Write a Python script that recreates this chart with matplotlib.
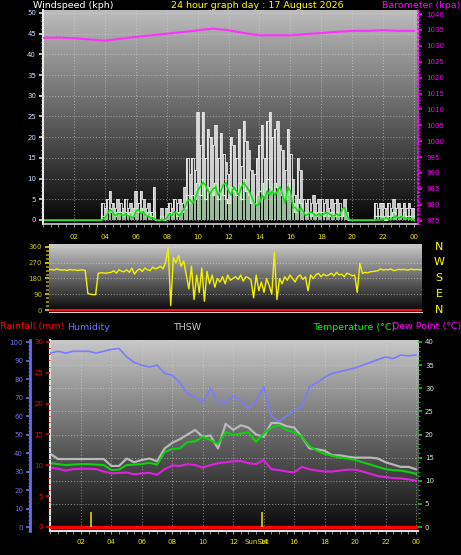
import numpy as np
import matplotlib
matplotlib.use('Agg')
import matplotlib.pyplot as plt
from matplotlib.ticker import MultipleLocator, FixedLocator
from matplotlib.colors import LinearSegmentedColormap

# ---------------- data ----------------
hour_ticks = [2, 4, 6, 8, 10, 12, 14, 16, 18, 20, 22, 24]
hour_labels = ['02', '04', '06', '08', '10', '12', '14', '16', '18', '20', '22', '00']

# 10-minute wind data (kph), 145 samples from 00:00 to 24:00
gust = [0, 0, 0, 0, 0, 0,  0, 0, 0, 0, 0, 0,  0, 0, 0, 0, 0, 0,  0, 0, 0, 0, 0, 4,
        3, 5, 7, 4, 3, 5,  4, 3, 5, 3, 4, 3,  7, 4, 7, 5, 3, 4,  2, 8, 0, 0, 3, 0,
        3, 4, 3, 5, 4, 5,  4, 8, 15, 11, 15, 12,  26, 18, 26, 15, 22, 20,  18, 23, 15, 21, 16, 14,
        11, 20, 18, 15, 22, 13,  24, 19, 17, 12, 11, 15,  18, 23, 15, 24, 26, 20,  22, 24, 18, 17, 12, 22,
        16, 10, 6, 15, 12, 5,  4, 5, 4, 6, 4, 5,  5, 4, 5, 3, 5, 4,  5, 4, 3, 5, 2, 0,
        0, 0, 0, 0, 0, 0,  0, 0, 0, 4, 3, 4,  4, 3, 4, 3, 5, 3,  4, 3, 4, 3, 4, 3,  3]
wind = [0, 0, 0, 0, 0, 0,  0, 0, 0, 0, 0, 0,  0, 0, 0, 0, 0, 0,  0, 0, 0, 0, 0, 1,
        1, 2, 3, 2, 1, 2,  2, 1, 2, 1, 2, 1,  3, 2, 3, 2, 1, 2,  1, 2, 0, 0, 1, 0,
        1, 2, 1, 2, 1, 2,  2, 3, 6, 4, 6, 5,  9, 6, 10, 5, 8, 7,  6, 9, 5, 8, 6, 5,
        4, 8, 7, 6, 9, 5,  10, 7, 6, 4, 4, 6,  7, 9, 6, 10, 8, 7,  9, 8, 7, 6, 5, 9,
        6, 4, 2, 5, 4, 2,  1, 2, 1, 2, 1, 2,  2, 1, 2, 1, 2, 1,  2, 1, 1, 3, 1, 0,
        0, 0, 0, 0, 0, 0,  0, 0, 0, 1, 1, 1,  1, 0, 1, 1, 2, 1,  1, 1, 2, 1, 1, 1,  1]
wind_avg = [0, 0, 0, 0, 0, 0,  0, 0, 0, 0, 0, 0,  0, 0, 0, 0, 0, 0,  0, 0, 0, 0, 0, 0,
            0.5, 1.5, 2.5, 2, 1, 1.5,  1.5, 1, 1.5, 1, 0.8, 0.5,  2, 2.5, 1.5, 2, 1, 0.8,
            0.5, 0.3, 0, 0, 0, 0,  0.5, 1.5, 1, 2, 1.5, 1,  2, 3, 4.5, 5, 4, 5,
            7, 8, 9, 8.5, 7, 6.5,  7.5, 8, 6, 7, 8.5, 9,  7, 6, 8, 7, 6, 8,
            9, 8, 7, 5.5, 4, 3.5,  4, 6, 5, 7, 6, 7,  6, 7, 8, 6, 4, 8,
            7, 3, 3, 2, 3, 2,  1, 1.5, 2, 1.5, 1, 1.5,  1, 1.5, 1.8, 1.5, 1, 1,
            1.5, 1, 2.5, 3, 1, 0,  0, 0, 0, 0, 0, 0,  0, 0, 0, 0, 0, 0,
            0.2, 0.5, 0.3, 0, 0.5, 1,  0.5, 0.8, 0.5, 0.2, 0.5, 0,  0]

# 10-minute wind direction (degrees)
direction = [230, 232, 228, 235, 230, 228,  230, 225, 232, 228, 230, 226,
             228, 230, 225, 95, 90, 88,  88, 210, 212, 212, 210, 213,
             215, 225, 210, 230, 222, 218,  230, 215, 240, 205, 225, 235,
             220, 240, 230, 225, 245, 235,  240, 250, 235, 270, 355, 25,
             300, 270, 310, 250, 280, 200,  120, 250, 60, 200, 100, 240,
             50, 220, 150, 200, 130, 180,  160, 190, 150, 200, 170, 180,
             190, 175, 200, 165, 190, 185,  170, 70, 200, 110, 160, 100,
             180, 140, 90, 330, 60, 180,  150, 190, 170, 200, 180, 160,
             190, 200, 175, 190, 110, 200,  180, 200, 210, 190, 205, 195,
             200, 210, 195, 215, 200, 205,  190, 210, 205, 195, 200, 100,
             265, 210, 215, 212, 218, 220,  222, 225, 235, 228, 232, 230,
             235, 225, 228, 232, 230, 232,  228, 230, 235, 230, 232, 230,  230]
dir_red_hours = [0, 24]
dir_red = [0, 0]

# hourly barometer (as labelled, kpa)
baro_hours = list(range(25))
baro = [1032.5, 1032.6, 1032.4, 1032.0, 1031.6, 1032.2, 1032.8, 1033.3, 1033.8, 1034.3,
        1034.9, 1035.4, 1034.9, 1034.0, 1033.3, 1033.3, 1033.3, 1033.7, 1034.0, 1034.4,
        1034.7, 1034.7, 1034.9, 1034.7, 1034.7]

# 30-minute temperature data
temp = [13.8, 13.6, 13.4, 13.5, 13.6, 13.6, 13.5, 13.4, 12.3, 12.4, 13.4, 13.5, 13.6, 13.9,
        13.5, 16.2, 16.9, 17.0, 18.4, 18.5, 19.5, 18.8, 18.0, 20.5, 19.9, 20.2, 20.5, 18.4,
        20.2, 21.5, 22.0, 21.0, 20.5, 19.5, 17.5, 16.5, 15.8, 15.4, 15.0, 14.8, 14.5, 14.0,
        13.5, 13.0, 12.5, 12.3, 12.2, 11.9, 11.5]
thsw = [15.8, 14.7, 14.7, 14.7, 14.7, 14.7, 14.7, 14.7, 13.2, 13.2, 14.8, 14.0, 14.5, 14.8,
        14.2, 17.0, 18.2, 19.0, 20.0, 21.0, 19.5, 19.8, 17.0, 22.3, 21.0, 22.0, 21.5, 20.0,
        19.5, 22.5, 22.5, 21.8, 21.5, 19.5, 17.0, 16.8, 16.5, 15.5, 15.5, 15.2, 15.0, 15.0,
        15.0, 14.8, 14.0, 13.5, 13.0, 13.0, 12.5]
dew = [12.8, 12.6, 12.2, 12.5, 12.6, 12.6, 12.5, 12.0, 11.6, 11.7, 11.8, 11.4, 11.6, 11.7,
       11.3, 12.5, 13.3, 13.2, 13.6, 13.4, 12.8, 13.4, 13.8, 14.0, 14.2, 14.3, 13.8, 13.6,
       14.5, 12.5, 12.3, 12.0, 11.8, 13.0, 12.5, 12.2, 12.0, 12.0, 12.2, 12.4, 12.4, 12.0,
       11.5, 11.0, 10.8, 10.6, 10.5, 10.3, 10.0]
humidity = [94, 95, 94, 95, 95, 95, 94, 95, 96, 96.5, 92, 89, 87.5, 86.5, 87.5, 83, 82, 78,
            72, 70, 67.5, 75, 68, 67, 71, 68, 64, 68, 76, 60, 57, 60, 63, 65, 76, 78, 81, 83,
            84, 85, 86, 87.5, 89, 90.5, 92, 91, 93, 92.5, 93]
rain_hours = [0, 24]
rain = [0, 0]
marker_hours = [2.65, 13.9]
marker_height = [2.4, 2.4]

# ---------------- figure ----------------
W, H = 461, 555
fig = plt.figure(figsize=(W / 100, H / 100), dpi=100, facecolor='black')
PX = 72 / 100  # points per pixel


def rect(l, t, r, b):
    return [l / W, 1 - b / H, (r - l) / W, (b - t) / H]


def background(r, top, bottom):
    bg = fig.add_axes(r, zorder=0)
    g = np.linspace(0, 1, 256).reshape(-1, 1)
    cmap = LinearSegmentedColormap.from_list('g', [bottom, top])
    bg.imshow(g, extent=[0, 1, 0, 1], origin='lower', aspect='auto', cmap=cmap)
    bg.set_xlim(0, 1)
    bg.set_ylim(0, 1)
    bg.axis('off')
    return bg


TICK = 5
TITLE = 6.8
t10 = np.arange(len(gust)) / 6.0
t10d = np.arange(len(direction)) / 6.0
t30 = np.arange(len(temp)) / 2.0

# ---- panel 1: wind + barometer ----
r1 = rect(43, 10, 418, 224)
background(r1, '#bcbcbc', '#050505')
ax1 = fig.add_axes(r1, zorder=1)
ax1.set_facecolor('none')
ax1.vlines(t10, wind, gust, color='white', lw=1.1)
ax1.plot(t10, gust, color='#e8e8e8', lw=0.6, drawstyle='steps-mid')
ax1.vlines(t10, 0, wind, color='#c6f0c6', lw=1.1)
ax1.plot(t10, wind, color='#c6f0c6', lw=0.9, drawstyle='steps-mid')
ax1.plot(t10, wind_avg, color='#18d818', lw=1.2)
ax1.set_xlim(0, 24.25)
ax1.set_ylim(-0.97, 50.7)
ax1.yaxis.set_major_locator(MultipleLocator(5))
ax1.yaxis.set_minor_locator(MultipleLocator(1))
ax1.xaxis.set_major_locator(FixedLocator(hour_ticks))
ax1.xaxis.set_minor_locator(MultipleLocator(0.5))
ax1.set_xticklabels(hour_labels)
ax1.grid(True, which='major', color='#d8d8d8', ls=(0, (1, 2)), lw=0.7, alpha=0.6)
ax1.tick_params(axis='y', colors='#e0e0e0', labelcolor='#c8dcff', labelsize=TICK, length=3, width=1.2, pad=2)
ax1.tick_params(axis='y', which='minor', colors='#c0c0c0', length=1.5)
ax1.tick_params(axis='x', colors='#a0a0a0', labelcolor='#e6e600', labelsize=TICK, length=2, pad=5)
ax1.tick_params(axis='x', which='minor', colors='#a0a0a0', length=2)
for s in ['top', 'right']:
    ax1.spines[s].set_visible(False)
ax1.spines['left'].set_color('#e8e8e8')
ax1.spines['left'].set_linewidth(1.5)
ax1.spines['bottom'].set_color('#d0d0d0')
ax1.spines['bottom'].set_linewidth(1.2)

axb = ax1.twinx()
axb.set_zorder(2)
axb.set_facecolor('none')
axb.plot(baro_hours, baro, color='#ff30ff', lw=1.5)
axb.set_ylim(973.96, 1041.26)
axb.yaxis.set_major_locator(MultipleLocator(5))
axb.yaxis.set_minor_locator(MultipleLocator(1))
axb.tick_params(axis='y', colors='#ff00ff', labelcolor='#ff00ff', labelsize=TICK, length=3, width=1.2, pad=3)
axb.tick_params(axis='y', which='minor', colors='#ff00ff', length=1.2)
for s in ['top', 'left', 'bottom']:
    axb.spines[s].set_visible(False)
axb.spines['right'].set_color('#ff00ff')
axb.spines['right'].set_linestyle(':')
axb.spines['right'].set_linewidth(1.2)

# ---- panel 2: wind direction ----
r2 = rect(49, 244, 422, 312)
background(r2, '#cacaca', '#050505')
ax2 = fig.add_axes(r2, zorder=1)
ax2.set_facecolor('none')
ax2.plot(dir_red_hours, dir_red, color='#ff1010', lw=1.5)
ax2.plot(t10d, direction, color='#f2f200', lw=1.0)
ax2.set_xlim(0, 24)
ax2.set_ylim(-11.4, 377)
ax2.yaxis.set_major_locator(FixedLocator([0, 90, 180, 270, 360]))
ax2.yaxis.set_minor_locator(MultipleLocator(22.5))
ax2.set_xticks([])
ax2.grid(True, axis='y', color='#e0e0e0', ls=(0, (1, 2)), lw=0.7, alpha=0.6)
ax2.tick_params(axis='y', colors='#b8b800', labelcolor='#c8c800', labelsize=TICK, length=3, width=1.5, pad=2)
ax2.tick_params(axis='y', which='minor', colors='#a0a000', length=2, width=1.2)
for s in ['top', 'right', 'left']:
    ax2.spines[s].set_visible(False)
ax2.spines['bottom'].set_color('#d0d0d0')
compass_y = [247, 262, 278, 294, 310]
for lab, yp in zip(['N', 'W', 'S', 'E', 'N'], compass_y):
    fig.text(439 / W, 1 - yp / H, lab, color='#ffff00', fontsize=8, ha='center', va='center')

# ---- panel 3: temperature / humidity / rain ----
r3 = rect(50, 340, 418, 531)
background(r3, '#c8c8c8', '#080808')
ax3 = fig.add_axes(r3, zorder=1)
ax3.set_facecolor('none')
ax3.plot(t30, thsw, color='#b8b8b8', lw=1.6)
ax3.plot(t30, temp, color='#10d010', lw=1.5)
ax3.plot(t30, dew, color='#e020e0', lw=1.5)
ax3.set_xlim(-0.03, 24.13)
ax3.set_ylim(-0.86, 40.43)

axh = ax3.twinx()
axr = ax3.twinx()

ax3.yaxis.tick_right()
ax3.yaxis.set_major_locator(MultipleLocator(5))
ax3.yaxis.set_minor_locator(MultipleLocator(1))
ax3.xaxis.set_major_locator(FixedLocator(hour_ticks))
ax3.xaxis.set_minor_locator(MultipleLocator(0.5))
ax3.set_xticklabels(hour_labels)
ax3.grid(True, which='major', color='#d8d8d8', ls=(0, (1, 2)), lw=0.7, alpha=0.6)
ax3.tick_params(axis='y', which='both', left=False, labelleft=False, right=True, labelright=True)
ax3.tick_params(axis='y', colors='#20c020', labelcolor='#c8f0c8', labelsize=TICK, length=3, width=1.2, pad=2)
ax3.tick_params(axis='y', which='minor', colors='#20c020', length=1.2)
ax3.tick_params(axis='x', colors='#a0a0a0', labelcolor='#e6e600', labelsize=TICK, length=2, pad=4)
ax3.tick_params(axis='x', which='minor', colors='#a0a0a0', length=2)
for s in ['top', 'right']:
    ax3.spines[s].set_visible(False)
ax3.spines['left'].set_color('#e0e0e0')
ax3.spines['left'].set_linewidth(1.5)
ax3.spines['bottom'].set_color('#e0e0e0')
ax3.spines['bottom'].set_linewidth(1.5)

axh.set_zorder(2)
axh.set_facecolor('none')
axh.plot(t30, humidity, color='#7b7bff', lw=1.2)
axh.set_ylim(-2.16, 101.1)
axh.yaxis.tick_left()
axh.spines['left'].set_position(('outward', 20 * PX))
axh.spines['left'].set_color('#6a6af0')
axh.spines['left'].set_linewidth(2)
for s in ['top', 'right', 'bottom']:
    axh.spines[s].set_visible(False)
axh.yaxis.set_major_locator(MultipleLocator(10))
axh.yaxis.set_minor_locator(MultipleLocator(2))
axh.tick_params(axis='y', colors='#6a6af0', labelcolor='#7070f0', labelsize=TICK, length=3, width=1.2, pad=2)
axh.tick_params(axis='y', which='minor', colors='#6a6af0', length=1.5)

axr.set_zorder(3)
axr.set_facecolor('none')
axr.plot(rain_hours, rain, color='#ff0000', lw=2.5)
axr.vlines(marker_hours, 0, marker_height, color='#c8c800', lw=1.3)
axr.set_ylim(-0.65, 30.32)
axr.yaxis.tick_left()
for s in ['top', 'right', 'bottom', 'left']:
    axr.spines[s].set_visible(False)
axr.yaxis.set_major_locator(MultipleLocator(5))
axr.yaxis.set_minor_locator(MultipleLocator(1))
axr.tick_params(axis='y', colors='#e00000', labelcolor='#ff0000', labelsize=TICK, length=3, width=1.2, pad=2)
axr.tick_params(axis='y', which='minor', colors='#e00000', length=1.5)
axr.text(marker_hours[1] - 0.35, -2.4, 'SunSet', color='#e6e600', fontsize=TICK,
         ha='center', va='center')

# ---- titles ----
ty = 1 - 6 / H
fig.text(33 / W, ty, 'Windspeed (kph)', color='white', fontsize=TITLE, ha='left', va='center')
fig.text(257 / W, ty, '24 hour graph day : 17 August 2026', color='#ffff00', fontsize=TITLE,
         ha='center', va='center')
fig.text(460 / W, ty, 'Barometer (kpa)', color='#ff00ff', fontsize=TITLE, ha='right', va='center')
ty3 = 1 - 327 / H
fig.text(0 / W, ty3, 'Rainfall (mm)', color='#ff0000', fontsize=TITLE, ha='left', va='center')
fig.text(67 / W, ty3, 'Humidity', color='#7070ff', fontsize=TITLE, ha='left', va='center')
fig.text(173 / W, ty3, 'THSW', color='#c8c8c8', fontsize=TITLE, ha='left', va='center')
fig.text(313 / W, ty3, 'Temperature (°C)', color='#00ff00', fontsize=TITLE, ha='left', va='center')
fig.text(461 / W, ty3, 'Dew Point (°C)', color='#ff00ff', fontsize=TITLE, ha='right', va='center')

fig.savefig('out.png', dpi=100, facecolor='black')
